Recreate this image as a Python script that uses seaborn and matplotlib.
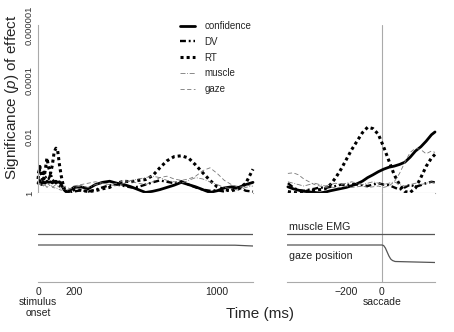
import matplotlib
matplotlib.use("Agg")
import matplotlib.pyplot as plt
import numpy as np
import pandas as pd
import seaborn as sns

sns.set_theme(style="white")
plt.rcParams["font.family"] = ["Liberation Sans", "DejaVu Sans"]
plt.rcParams["mathtext.fontset"] = "custom"
plt.rcParams["mathtext.rm"] = "Liberation Sans"
plt.rcParams["mathtext.it"] = "Liberation Sans:italic"

# --- data: -log10(p) ------------------------------------------------------
t_stim = [0, 10, 20, 30, 40, 50, 60, 70, 80, 90, 100, 110, 120, 130, 140, 150,
          160, 180, 200, 240, 280, 320, 360, 400, 440, 480, 520, 560, 600, 640,
          680, 720, 760, 800, 840, 880, 920, 960, 1000, 1040, 1080, 1120, 1160, 1200]
conf_stim = [0.35, 0.45, 0.3, 0.4, 0.35, 0.42, 0.38, 0.4, 0.36, 0.4, 0.42, 0.38,
             0.4, 0.3, 0.18, 0.08, 0.03, 0.1, 0.2, 0.22, 0.15, 0.3, 0.38, 0.42,
             0.35, 0.3, 0.22, 0.12, 0.02, 0.06, 0.12, 0.2, 0.28, 0.38, 0.3, 0.22,
             0.12, 0.02, 0.08, 0.18, 0.22, 0.2, 0.3, 0.38]
dv_stim = [0.7, 0.85, 0.6, 0.75, 0.55, 0.6, 0.5, 0.7, 0.5, 0.4, 0.35, 0.3, 0.25,
           0.2, 0.15, 0.1, 0.05, 0.02, 0.05, 0.1, 0.05, 0.12, 0.2, 0.28, 0.3,
           0.25, 0.2, 0.22, 0.3, 0.38, 0.45, 0.4, 0.35, 0.42, 0.3, 0.2, 0.12,
           0.08, 0.1, 0.05, 0.12, 0.2, 0.08, 0.05]
rt_stim = [0.5, 0.95, 0.6, 0.4, 0.8, 1.25, 0.9, 0.7, 1.0, 1.45, 1.6, 1.5, 1.0,
           0.6, 0.3, 0.1, 0.02, 0.05, 0.12, 0.1, 0.05, 0.08, 0.15, 0.2, 0.35,
           0.42, 0.4, 0.45, 0.48, 0.62, 0.9, 1.15, 1.3, 1.33, 1.25, 1.0, 0.72,
           0.45, 0.22, 0.12, 0.08, 0.15, 0.35, 0.85]
muscle_stim = [0.3, 0.35, 0.25, 0.3, 0.28, 0.2, 0.25, 0.3, 0.22, 0.18, 0.2, 0.15,
               0.12, 0.1, 0.12, 0.15, 0.1, 0.15, 0.2, 0.25, 0.2, 0.3, 0.35, 0.3,
               0.25, 0.35, 0.45, 0.5, 0.55, 0.6, 0.55, 0.45, 0.4, 0.35, 0.45,
               0.55, 0.5, 0.4, 0.3, 0.2, 0.15, 0.1, 0.2, 0.25]
gaze_stim = [0.4, 0.3, 0.35, 0.25, 0.3, 0.35, 0.3, 0.25, 0.2, 0.25, 0.3, 0.25,
             0.2, 0.15, 0.2, 0.25, 0.2, 0.15, 0.25, 0.3, 0.35, 0.4, 0.35, 0.3,
             0.35, 0.45, 0.4, 0.35, 0.3, 0.4, 0.55, 0.6, 0.5, 0.45, 0.5, 0.6,
             0.8, 0.9, 0.7, 0.45, 0.3, 0.2, 0.25, 0.3]

t_sacc = [-530, -500, -470, -440, -410, -380, -350, -320, -290, -260, -230, -200,
          -170, -140, -110, -80, -50, -20, 10, 40, 70, 100, 130, 160, 190, 220,
          250, 280, 300]
conf_sacc = [0.22, 0.15, 0.1, 0.06, 0.04, 0.02, 0.0, 0.03, 0.08, 0.12, 0.16, 0.2,
             0.26, 0.33, 0.42, 0.55, 0.65, 0.76, 0.85, 0.92, 0.96, 1.02, 1.1,
             1.28, 1.5, 1.65, 1.85, 2.08, 2.18]
dv_sacc = [0.35, 0.2, 0.1, 0.08, 0.12, 0.15, 0.2, 0.18, 0.22, 0.25, 0.3, 0.28,
           0.32, 0.3, 0.28, 0.25, 0.3, 0.35, 0.3, 0.28, 0.2, 0.12, 0.2, 0.3,
           0.22, 0.28, 0.35, 0.4, 0.38]
rt_sacc = [0.05, 0.02, 0.0, 0.05, 0.08, 0.1, 0.12, 0.15, 0.3, 0.55, 0.85, 1.2,
           1.55, 1.85, 2.15, 2.35, 2.3, 2.1, 1.65, 1.15, 0.65, 0.3, 0.05, 0.02,
           0.18, 0.55, 0.95, 1.25, 1.38]
muscle_sacc = [0.4, 0.35, 0.3, 0.25, 0.3, 0.35, 0.3, 0.25, 0.3, 0.35, 0.3, 0.35,
               0.4, 0.35, 0.3, 0.35, 0.4, 0.35, 0.3, 0.35, 0.4, 0.3, 0.25, 0.3,
               0.35, 0.3, 0.35, 0.4, 0.35]
gaze_sacc = [0.7, 0.72, 0.65, 0.5, 0.4, 0.3, 0.25, 0.2, 0.22, 0.18, 0.2, 0.25,
             0.2, 0.22, 0.25, 0.2, 0.22, 0.25, 0.2, 0.25, 0.4, 0.7, 1.1, 1.45,
             1.6, 1.55, 1.4, 1.5, 1.45]

# bottom traces (arbitrary units)
emg_t_stim = [0, 400, 800, 1200]
emg_stim = [48, 48, 48, 48]
gazepos_t_stim = [0, 600, 1100, 1200]
gazepos_stim = [37, 37, 36.8, 36]
emg_t_sacc = [-535, 300]
emg_sacc = [48, 48]
gazepos_t_sacc = [-535, 0, 10, 20, 30, 40, 50, 60, 75, 300]
gazepos_sacc = [37, 37, 36.5, 34, 30, 26, 23, 21.5, 20.5, 19.5]

labels = ["confidence", "DV", "RT", "muscle", "gaze"]
styles = {
    "confidence": dict(color="black", lw=2.0, linestyle="-"),
    "DV": dict(color="black", lw=1.7, linestyle=(0, (2.5, 1.2, 0.8, 1.2))),
    "RT": dict(color="black", lw=2.2, linestyle=(0, (1, 1))),
    "muscle": dict(color="#777777", lw=0.6, linestyle=(0, (6, 2, 1, 2))),
    "gaze": dict(color="#777777", lw=0.6, linestyle=(0, (5, 3))),
}

GRAY = "#aaaaaa"
W, H = 454, 332
fig = plt.figure(figsize=(W / 100, H / 100), dpi=100)


def box(x0, y0, x1, y1):
    return [x0 / W, 1 - y1 / H, (x1 - x0) / W, (y1 - y0) / H]


ax_tl = fig.add_axes(box(38, 25, 253, 193))
ax_tr = fig.add_axes(box(287, 25, 435, 193))
ax_bl = fig.add_axes(box(38, 193, 253, 282))
ax_br = fig.add_axes(box(287, 193, 435, 282))

stim_series = [conf_stim, dv_stim, rt_stim, muscle_stim, gaze_stim]
sacc_series = [conf_sacc, dv_sacc, rt_sacc, muscle_sacc, gaze_sacc]
for name, ys in zip(labels, stim_series):
    p = 10 ** (-np.asarray(ys))
    sns.lineplot(x=t_stim, y=p, ax=ax_tl, label=name, clip_on=False, **styles[name])
for name, ys in zip(labels, sacc_series):
    p = 10 ** (-np.asarray(ys))
    sns.lineplot(x=t_sacc, y=p, ax=ax_tr, legend=False, clip_on=False, **styles[name])

for ax in (ax_tl, ax_tr):
    ax.set_yscale("log")
    ax.set_ylim(1, 1e-6)
    for s in ("top", "right"):
        ax.spines[s].set_visible(False)
    ax.spines["bottom"].set_color(GRAY)
    ax.spines["bottom"].set_linewidth(0.8)
    ax.tick_params(axis="x", direction="inout", length=2.5, width=0.6,
                   color=GRAY, labelbottom=False)
    ax.set_xlabel("")

ax_tl.set_xlim(0, 1200)
ax_tl.set_xticks(range(0, 1201, 200))
ax_tl.spines["left"].set_color(GRAY)
ax_tl.spines["left"].set_linewidth(0.8)
ax_tl.set_yticks([1, 1e-2, 1e-4, 1e-6], labels=["1", "0.01", "0.0001", "0.000001"])
ax_tl.yaxis.set_minor_locator(matplotlib.ticker.NullLocator())
ax_tl.tick_params(axis="y", direction="out", length=2, width=0.6, color=GRAY,
                  labelsize=6.8, pad=1, labelcolor="#333333")
for t in ax_tl.get_yticklabels():
    t.set_rotation(90)
    t.set_va("center")

ax_tr.set_xlim(-535, 300)
ax_tr.set_xticks([-400, -200, 0, 200])
ax_tr.spines["left"].set_visible(False)
ax_tr.set_yticks([])
ax_tr.yaxis.set_minor_locator(matplotlib.ticker.NullLocator())
ax_tr.axvline(0, color=GRAY, lw=0.8, zorder=0)

# bottom panels
sns.lineplot(x=emg_t_stim, y=emg_stim, ax=ax_bl, color="#555555", lw=0.9)
sns.lineplot(x=gazepos_t_stim, y=gazepos_stim, ax=ax_bl, color="#555555", lw=0.9)
sns.lineplot(x=emg_t_sacc, y=emg_sacc, ax=ax_br, color="#555555", lw=0.9)
sns.lineplot(x=gazepos_t_sacc, y=gazepos_sacc, ax=ax_br, color="#555555", lw=0.9)
ax_br.axvline(0, color=GRAY, lw=0.8, zorder=0)
ax_br.text(-522, 55, "muscle EMG", fontsize=7.7, va="center", ha="left", color="#222222")
ax_br.text(-522, 26, "gaze position", fontsize=7.7, va="center", ha="left", color="#222222")

for ax in (ax_bl, ax_br):
    ax.set_ylim(0, 89)
    ax.set_yticks([])
    for s in ("top", "right", "left"):
        ax.spines[s].set_visible(False)
    ax.spines["bottom"].set_color(GRAY)
    ax.spines["bottom"].set_linewidth(0.8)
    ax.tick_params(axis="x", direction="inout", length=2.5, width=0.6,
                   color=GRAY, labelsize=7.5, pad=2, labelcolor="#222222")
    ax.set_xlabel("")
    ax.set_ylabel("")

ax_bl.set_xlim(0, 1200)
ax_bl.set_xticks(range(0, 1201, 200),
                 labels=["0\nstimulus\nonset", "200", "", "", "", "1000", ""])
ax_br.set_xlim(-535, 300)
ax_br.set_xticks([-400, -200, 0, 200], labels=["", "\u2212200", "0\nsaccade", ""])
for ax in (ax_bl, ax_br):
    for t in ax.get_xticklabels():
        t.set_linespacing(1.1)

leg = ax_tl.legend(loc="upper left", bbox_to_anchor=(180 / W, 1 - 21 / H),
                   bbox_transform=fig.transFigure, frameon=False, fontsize=7,
                   handlelength=1.5, handletextpad=1.0, labelspacing=0.6,
                   borderpad=0, borderaxespad=0)

fig.text(12 / W, 1 - 97 / H, "Significance ($\\it{p}$) of effect", rotation=90,
         ha="center", va="center", fontsize=11)
fig.text(260 / W, 1 - 314 / H, "Time (ms)", ha="center", va="center", fontsize=11)

fig.savefig("out.png", dpi=100)
